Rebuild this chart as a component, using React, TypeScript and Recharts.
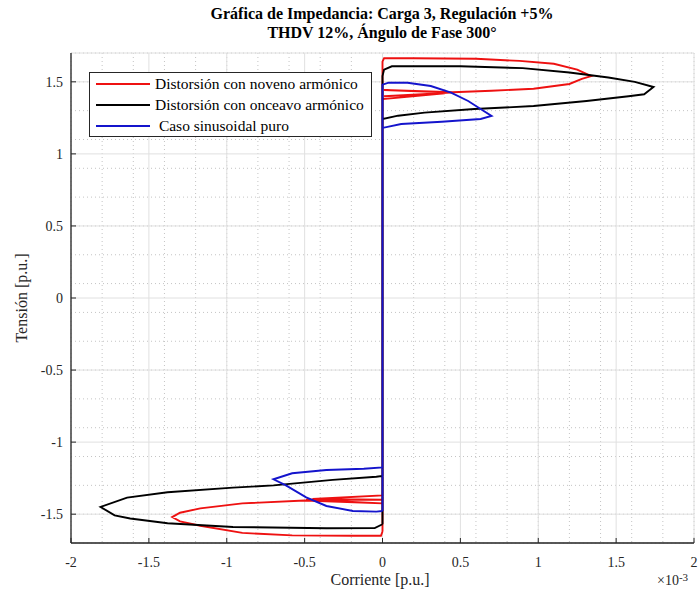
import { ComposedChart, Line, XAxis, YAxis, CartesianGrid, Legend } from 'recharts'

// corriente en unidades de 1e-3 p.u., tension en p.u.
const redX = [0, 0, 0.40, 0.01, 0.44, 0.01, 0.45, 0.7, 0.97, 1.2, 1.28, 1.34, 1.25, 1.1, 0.88, 0.6, 0.2, 0.01, 0,
  0, -0.45, 0, -0.49, 0, -0.5, -0.9, -1.17, -1.3, -1.35, -1.3, -1.17, -0.9, -0.58, -0.2, -0.01, 0]
const redY = [-1.62, 1.38, 1.42, 1.40, 1.425, 1.443, 1.428, 1.438, 1.452, 1.485, 1.52, 1.54, 1.585, 1.625, 1.645, 1.66, 1.664, 1.664, 1.64,
  -1.37, -1.395, -1.40, -1.40, -1.425, -1.405, -1.425, -1.46, -1.49, -1.52, -1.55, -1.58, -1.63, -1.647, -1.65, -1.65, -1.62]

const blackX = [0, 0, 0.1, 0.27, 0.59, 0.97, 1.31, 1.58, 1.68, 1.74, 1.62, 1.45, 1.2, 0.9, 0.5, 0.06, 0.01, 0,
  0, -0.04, -0.32, -0.7, -0.96, -1.38, -1.64, -1.81, -1.72, -1.62, -1.38, -0.96, -0.36, -0.05, 0]
const blackY = [-1.57, 1.242, 1.265, 1.286, 1.311, 1.332, 1.367, 1.40, 1.414, 1.464, 1.50, 1.53, 1.565, 1.595, 1.608, 1.608, 1.585, 1.54,
  -1.235, -1.24, -1.262, -1.30, -1.316, -1.348, -1.385, -1.45, -1.508, -1.53, -1.563, -1.589, -1.598, -1.597, -1.57]

const blueX = [0, 0, 0.12, 0.38, 0.63, 0.7, 0.63, 0.55, 0.44, 0.31, 0.16, 0.04, 0,
  0, -0.12, -0.36, -0.58, -0.7, -0.62, -0.49, -0.36, -0.19, -0.04, 0]
const blueY = [-1.478, 1.18, 1.207, 1.223, 1.242, 1.263, 1.311, 1.367, 1.425, 1.471, 1.494, 1.494, 1.48,
  -1.175, -1.185, -1.193, -1.216, -1.258, -1.30, -1.383, -1.443, -1.478, -1.482, -1.478]

const seriesNames = ['Distorsión con noveno armónico', 'Distorsión con onceavo armónico', ' Caso sinusoidal puro']

const xTicks = [-2, -1.5, -1, -0.5, 0, 0.5, 1, 1.5, 2]
const yTicks = [-1.5, -1, -0.5, 0, 0.5, 1, 1.5]

const toPoints = (xs: number[], ys: number[]) => xs.map((x, i) => ({ x, y: ys[i] }))
const redData = toPoints(redX, redY)
const blackData = toPoints(blackX, blackY)
const blueData = toPoints(blueX, blueY)

const xMinor: number[] = []
for (let i = -20; i <= 20; i++) xMinor.push(i / 10)
const yMinor: number[] = []
for (let i = -17; i <= 17; i++) yMinor.push(i / 10)

const serif = '"Liberation Serif", "Times New Roman", serif'
const axisColor = '#262626'

function XTick({ x, y, payload }: any) {
  return (
    <g>
      <line x1={x} x2={x} y1={y} y2={y - 5} stroke={axisColor} strokeWidth={1} />
      <text x={x} y={y + 24} textAnchor="middle" fill={axisColor} fontSize={14} fontFamily={serif}>
        {payload.value}
      </text>
    </g>
  )
}

function YTick({ x, y, payload }: any) {
  return (
    <g>
      <line x1={x} x2={x + 5} y1={y} y2={y} stroke={axisColor} strokeWidth={1} />
      <text x={x - 8} y={y + 5} textAnchor="end" fill={axisColor} fontSize={14} fontFamily={serif}>
        {payload.value}
      </text>
    </g>
  )
}

function LegendBox({ payload }: any) {
  const items = (payload || []).slice().sort((a: any, b: any) => seriesNames.indexOf(a.value) - seriesNames.indexOf(b.value))
  return (
    <div style={{ border: '1px solid #262626', background: '#fff', width: 283, height: 65, boxSizing: 'border-box', fontFamily: serif, fontSize: 15.5, color: '#000' }}>
      {items.map((item: any) => (
        <div key={item.value} style={{ display: 'flex', alignItems: 'center', height: 21.3 }}>
          <span style={{ display: 'inline-block', width: 54, marginLeft: 6, marginRight: 5, borderTop: `2px solid ${item.color}` }} />
          <span style={{ whiteSpace: 'pre' }}>{item.value}</span>
        </div>
      ))}
    </div>
  )
}

export default function App() {
  return (
    <div style={{ position: 'absolute', left: 0, top: 0, width: 699, height: 596, background: '#fff', fontFamily: serif }}>
      <div style={{ position: 'absolute', left: 82, width: 600, top: 4, textAlign: 'center', fontWeight: 'bold', fontSize: 16, lineHeight: '19px', color: '#000' }}>
        <div>Gráfica de Impedancia: Carga 3, Regulación +5%</div>
        <div>THDV 12%, Ángulo de Fase 300°</div>
      </div>
      <ComposedChart width={699} height={596} margin={{ top: 53, right: 5, bottom: 0, left: 0 }}>
        <XAxis xAxisId="minor" type="number" dataKey="x" domain={[-2, 2]} ticks={xMinor} hide allowDataOverflow />
        <YAxis yAxisId="minor" type="number" dataKey="y" domain={[-1.7, 1.7]} ticks={yMinor} hide allowDataOverflow />
        <CartesianGrid xAxisId="minor" yAxisId="minor" stroke="#c4c4c4" strokeDasharray="1 3" />
        <CartesianGrid stroke="#e0e0e0" />
        <XAxis
          type="number"
          dataKey="x"
          domain={[-2, 2]}
          ticks={xTicks}
          height={53}
          tickSize={0}
          tickMargin={0}
          tickLine={false}
          tick={<XTick />}
          axisLine={{ stroke: axisColor, strokeWidth: 1.3 }}
          allowDataOverflow
        />
        <YAxis
          type="number"
          dataKey="y"
          domain={[-1.7, 1.7]}
          ticks={yTicks}
          width={71}
          tickSize={0}
          tickMargin={0}
          tickLine={false}
          tick={<YTick />}
          axisLine={{ stroke: axisColor, strokeWidth: 1.3 }}
          allowDataOverflow
        />
        <Line data={redData} dataKey="y" name={seriesNames[0]} type="linear" stroke="#ee1111" strokeWidth={1.9} dot={false} activeDot={false} isAnimationActive={false} />
        <Line data={blackData} dataKey="y" name={seriesNames[1]} type="linear" stroke="#000000" strokeWidth={1.9} dot={false} activeDot={false} isAnimationActive={false} />
        <Line data={blueData} dataKey="y" name={seriesNames[2]} type="linear" stroke="#1414cc" strokeWidth={1.9} dot={false} activeDot={false} isAnimationActive={false} />
        <Legend
          layout="vertical"
          align="center"
          verticalAlign="middle"
          content={<LegendBox />}
          wrapperStyle={{ left: 89, top: 72, width: 283, height: 65 }}
        />
      </ComposedChart>
      <div style={{ position: 'absolute', left: 280, width: 200, top: 571, textAlign: 'center', fontSize: 16, lineHeight: '18px', color: axisColor }}>
        Corriente [p.u.]
      </div>
      <div style={{ position: 'absolute', left: 22, top: 298, width: 0, height: 0 }}>
        <div style={{ position: 'absolute', left: -100, top: -9, width: 200, textAlign: 'center', fontSize: 16, lineHeight: '18px', color: axisColor, transform: 'rotate(-90deg)' }}>
          Tensión [p.u.]
        </div>
      </div>
      <div style={{ position: 'absolute', left: 657, top: 573, fontSize: 14, lineHeight: '16px', color: axisColor, whiteSpace: 'nowrap' }}>
        ×10<sup style={{ fontSize: 11, verticalAlign: 'top', position: 'relative', top: -4 }}>-3</sup>
      </div>
    </div>
  )
}
